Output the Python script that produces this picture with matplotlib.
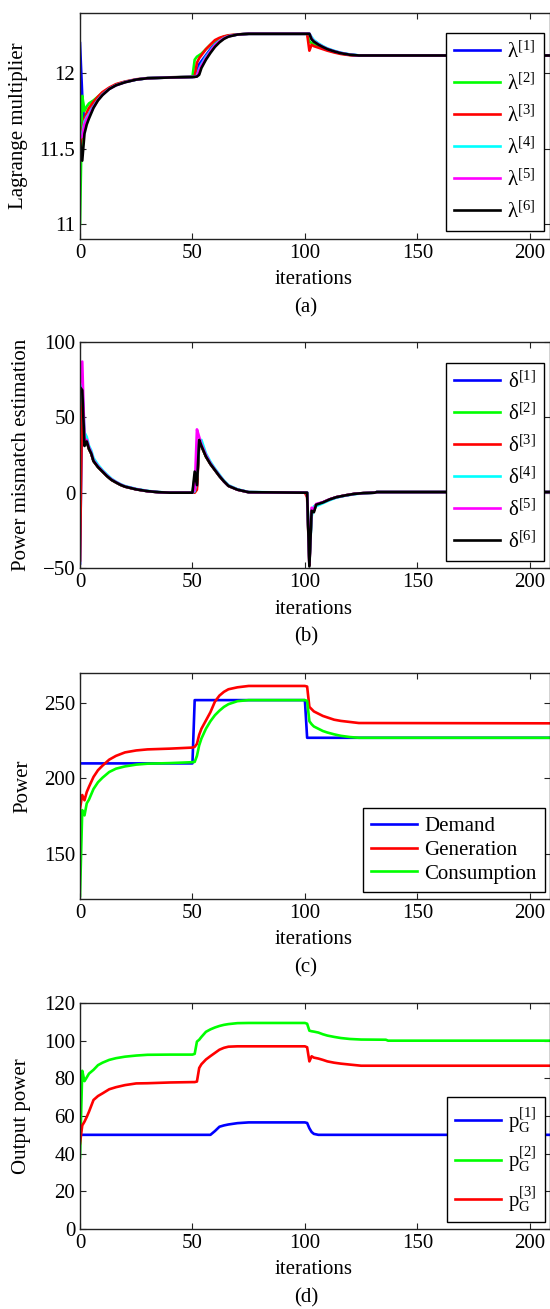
"""Distributed dispatch: Lagrange multipliers, mismatch estimates, power and unit outputs."""

import matplotlib
matplotlib.use("Agg")
import matplotlib.pyplot as plt

FONT = "Liberation Serif"
FONT_SIZE = 15
LINE_WIDTH = 1.9
W, H = 550, 1309          # figure size in pixels
AX_LEFT, AX_WIDTH, AX_HEIGHT = 80, 470, 226
AX_BOTTOMS = [239, 568, 899, 1229]  # bottom spine of each panel, px from top
X_MAX = 209

plt.rcParams["font.family"] = [FONT, "DejaVu Serif"]
plt.rcParams["mathtext.fontset"] = "custom"
plt.rcParams["mathtext.rm"] = FONT
plt.rcParams["mathtext.it"] = FONT + ":italic"
plt.rcParams["mathtext.bf"] = FONT + ":bold"

COLORS6 = ["#0000ff", "#00ff00", "#ff0000", "#00ffff", "#ff00ff", "#000000"]
COLORS3 = ["#0000ff", "#ff0000", "#00ff00"]

# ---- (a) Lagrange multipliers ----
iter_a = [0, 1, 2, 3, 4, 6, 8, 10, 13, 16, 20, 25, 30, 40, 50,
          51, 52, 53, 54, 56, 58, 60, 62, 64, 66, 70, 75,
          101, 102, 103, 104, 106, 108, 110, 113, 116, 120, 124, 210]
lam1 = [12.2, 11.85, 11.65, 11.70, 11.73, 11.785, 11.83, 11.86, 11.898, 11.922, 11.942, 11.958, 11.967, 11.972, 11.976,
        11.977, 12.0, 12.06, 12.08, 12.12, 12.16, 12.195, 12.22, 12.235, 12.247, 12.257, 12.262,
        12.262, 12.262, 12.23, 12.215, 12.195, 12.177, 12.162, 12.147, 12.135, 12.124, 12.118, 12.118]
lam2 = [11.0, 11.85, 11.75, 11.78, 11.80, 11.82, 11.845, 11.87, 11.90, 11.925, 11.943, 11.958, 11.967, 11.972, 11.976,
        12.09, 12.11, 12.12, 12.13, 12.16, 12.19, 12.215, 12.23, 12.243, 12.25, 12.257, 12.262,
        12.262, 12.21, 12.20, 12.195, 12.18, 12.167, 12.155, 12.142, 12.131, 12.122, 12.117, 12.117]
lam3 = [11.50, 11.62, 11.70, 11.74, 11.77, 11.81, 11.845, 11.875, 11.905, 11.928, 11.945, 11.96, 11.968, 11.973, 11.977,
        11.98, 12.07, 12.10, 12.12, 12.16, 12.19, 12.22, 12.235, 12.245, 12.252, 12.258, 12.262,
        12.262, 12.15, 12.19, 12.18, 12.17, 12.16, 12.15, 12.138, 12.128, 12.12, 12.117, 12.117]
lam4 = [11.58, 11.60, 11.68, 11.71, 11.73, 11.78, 11.825, 11.86, 11.897, 11.921, 11.942, 11.958, 11.968, 11.973, 11.976,
        11.977, 11.985, 12.03, 12.06, 12.11, 12.15, 12.19, 12.215, 12.233, 12.246, 12.257, 12.262,
        12.262, 12.262, 12.24, 12.22, 12.198, 12.18, 12.165, 12.149, 12.136, 12.125, 12.119, 12.119]
lam5 = [11.57, 11.58, 11.66, 11.70, 11.72, 11.775, 11.822, 11.857, 11.896, 11.92, 11.941, 11.958, 11.967, 11.972, 11.975,
        11.976, 11.98, 12.02, 12.05, 12.10, 12.145, 12.185, 12.212, 12.231, 12.245, 12.257, 12.262,
        12.262, 12.262, 12.23, 12.212, 12.192, 12.175, 12.161, 12.146, 12.134, 12.123, 12.118, 12.118]
lam6 = [11.55, 11.42, 11.60, 11.66, 11.70, 11.77, 11.82, 11.855, 11.895, 11.92, 11.94, 11.958, 11.967, 11.972, 11.975,
        11.976, 11.978, 11.99, 12.035, 12.09, 12.135, 12.175, 12.205, 12.228, 12.243, 12.257, 12.262,
        12.262, 12.262, 12.225, 12.21, 12.19, 12.174, 12.16, 12.145, 12.133, 12.123, 12.118, 12.118]

# ---- (b) power mismatch estimates ----
iter_b = [0, 1, 2, 3, 4, 5, 6, 8, 10, 12, 14, 16, 18, 20, 25, 30, 35, 40, 50,
          51, 52, 53, 54, 56, 58, 60, 62, 64, 66, 70, 75, 100,
          101, 102, 103, 104, 105, 108, 111, 114, 118, 122, 126, 131, 132, 210]
delta1 = [-47, 68, 32, 34, 29, 26, 21, 17, 14, 11, 8.5, 6.8, 5.2, 4, 2.2, 1, 0.3, 0, 0,
          1, 4, 34, 31, 24, 19, 15, 11, 7.5, 4.5, 2, 0.3, 0,
          0, -48, -12, -12, -8, -6.5, -4.5, -3, -1.8, -0.8, -0.3, 0, 0.4, 0.4]
delta2 = [70, 70, 33, 34, 29, 26, 21, 17, 14, 11, 8.5, 6.8, 5.2, 4, 2.2, 1, 0.3, 0, 0,
          10, 6, 34, 31, 24, 19, 15, 11, 7.5, 4.5, 2, 0.3, 0,
          0, -46, -11, -12, -8, -6.5, -4.5, -3, -1.8, -0.8, -0.3, 0, 0.4, 0.4]
delta3 = [-45, 70, 33, 34, 29, 26, 21, 17, 14, 11, 8.5, 6.8, 5.2, 4, 2.2, 1, 0.3, 0, 0,
          0, 2, 33, 31, 24, 19, 15, 11, 7.5, 4.5, 2, 0.3, 0,
          -3, -48, -12, -12, -8, -6.5, -4.5, -3, -1.8, -0.8, -0.3, 0, 0.4, 0.4]
delta4 = [72, 71, 40, 37, 31, 28, 23, 18.5, 15, 12, 9.3, 7.3, 5.7, 4.4, 2.5, 1.2, 0.4, 0, 0,
          1, 10, 33, 35, 26, 20.5, 16, 12, 8, 5, 2.3, 0.4, 0,
          0, -45, -16, -9, -9, -7, -5, -3.3, -2, -1, -0.4, 0, 0.4, 0.4]
delta5 = [72, 87, 35, 35, 30, 26.5, 21.5, 17.5, 14.3, 11.3, 8.8, 7, 5.4, 4.1, 2.3, 1, 0.3, 0, 0,
          2, 42, 37, 32, 25, 19.5, 15.3, 11.3, 7.5, 4.6, 2, 0.3, 0,
          0, -47, -10, -11, -7.5, -6.3, -4.4, -3, -1.8, -0.8, -0.3, 0, 0.4, 0.4]
delta6 = [70, 68, 31, 34, 29, 26, 21, 17, 14, 11, 8.5, 6.8, 5.2, 4, 2.2, 1, 0.3, 0, 0,
          14, 5, 35, 31, 24, 19, 15, 11, 7.5, 4.5, 2, 0.3, 0,
          0, -49, -12, -13, -8, -6.5, -4.5, -3, -1.8, -0.8, -0.3, 0, 0.4, 0.4]

# ---- (c) demand / generation / consumption ----
iter_demand = [0, 50, 51, 100, 101, 210]
demand = [210, 210, 252, 252, 227, 227]
iter_c = [0, 1, 2, 3, 4, 6, 8, 10, 13, 16, 20, 25, 30, 40, 50,
          51, 52, 53, 54, 56, 58, 60, 62, 64, 66, 70, 75, 100,
          101, 102, 103, 104, 106, 108, 110, 113, 116, 120, 124, 210]
generation = [180, 189, 185.5, 191, 194.5, 201, 205.5, 208.5, 212.5, 215, 217.3, 218.6, 219.3, 219.8, 220.5,
              221, 223, 229, 233, 238.5, 244, 251, 255, 257.5, 259.2, 260.5, 261.4, 261.4,
              261, 247.5, 246, 244.5, 243, 241.5, 240.5, 239, 238.2, 237.5, 236.8, 236.6]
consumption = [122, 179, 175.5, 183.5, 186, 193, 197.5, 200.5, 204.3, 206.5, 208, 209.2, 209.8, 210.2, 210.8,
               211, 215, 222, 226.5, 233, 238, 242, 245, 247.5, 249.3, 251.3, 252, 252,
               251.5, 238, 236, 234.5, 233, 231.5, 230.5, 229.3, 228.3, 227.5, 227, 227]

# ---- (d) unit outputs ----
iter_pg1 = [0, 58, 60, 62, 64, 66, 70, 75, 100, 101, 102, 103, 104, 106, 210]
pg1 = [50, 50, 52, 54.3, 55, 55.5, 56.2, 56.6, 56.6, 56.3, 53.5, 51.5, 50.5, 50, 50]
iter_d = [0, 1, 2, 3, 4, 6, 8, 10, 13, 16, 20, 25, 30, 40, 50,
          51, 52, 53, 54, 56, 58, 60, 62, 64, 66, 70, 75, 100,
          101, 102, 103, 104, 106, 108, 110, 113, 116, 120, 125, 136, 137, 210]
pg2 = [38, 84, 78.5, 80.5, 82.5, 84.5, 87, 88.3, 89.8, 90.7, 91.5, 92.1, 92.5, 92.6, 92.6,
       93, 99.5, 100.5, 102, 104.7, 106, 107, 107.8, 108.4, 108.8, 109.3, 109.4, 109.4,
       109, 105.3, 105, 104.8, 104.3, 103.4, 102.7, 102, 101.4, 100.9, 100.6, 100.5, 100, 100]
pg3 = [45.5, 55, 57, 59.5, 62.3, 68.5, 70.6, 72, 74.2, 75.3, 76.4, 77.3, 77.4, 77.8, 78,
       78, 78.3, 85.5, 87.5, 90, 91.8, 93.5, 95.2, 96.2, 96.8, 97, 97, 97,
       96.5, 89, 91.7, 91, 90.5, 89.8, 89, 88.3, 87.8, 87.3, 86.7, 86.7, 86.7, 86.7]

lam_labels = [r"$\mathrm{λ}^{[%d]}$" % k for k in range(1, 7)]
delta_labels = [r"$\mathrm{δ}^{[%d]}$" % k for k in range(1, 7)]
power_labels = ["Demand", "Generation", "Consumption"]
pg_labels = [r"$\mathrm{p}_\mathrm{G}^{[%d]}$" % k for k in range(1, 4)]

fig = plt.figure(figsize=(W / 100, H / 100), dpi=100)


def make_axes(bottom_px, ylim, yticks, ylabel, ylabel_x, tag):
    ax = fig.add_axes([AX_LEFT / W, (H - bottom_px) / H, AX_WIDTH / W, AX_HEIGHT / H])
    ax.set_xlim(0, X_MAX)
    ax.set_ylim(*ylim)
    ax.set_xticks([0, 50, 100, 150, 200])
    ax.set_yticks(yticks)
    ax.tick_params(direction="in", top=True, right=True, length=4, width=0.8,
                   labelsize=FONT_SIZE, pad=3.5, color="#222222", labelcolor="black")
    for s in ax.spines.values():
        s.set_linewidth(1.0)
        s.set_color("#222222")
    top_px = bottom_px - AX_HEIGHT
    fig.text(ylabel_x / W, 1 - (top_px + AX_HEIGHT / 2) / H, ylabel, rotation=90,
             ha="center", va="center", fontsize=FONT_SIZE)
    fig.text(314 / W, 1 - (bottom_px + 41) / H, "iterations", ha="center", va="center", fontsize=FONT_SIZE)
    fig.text(306 / W, 1 - (bottom_px + 69) / H, tag, ha="center", va="center", fontsize=FONT_SIZE)
    return ax


def add_legend(ax, loc, anchor, spacing):
    leg = ax.legend(loc=loc, bbox_to_anchor=anchor, bbox_transform=ax.transAxes, borderaxespad=0,
                    fontsize=FONT_SIZE, handlelength=2.2, handletextpad=0.35, labelspacing=spacing,
                    borderpad=0.4, fancybox=False, framealpha=1, edgecolor="black")
    leg.get_frame().set_linewidth(1.0)


# (a)
ax = make_axes(AX_BOTTOMS[0], (10.9, 12.4), [11, 11.5, 12], "Lagrange multiplier", 19, "(a)")
ax.set_yticklabels(["11", "11.5", "12"])
for ys, c, lab in zip([lam1, lam2, lam3, lam4, lam5, lam6], COLORS6, lam_labels):
    ax.plot(iter_a, ys, color=c, lw=LINE_WIDTH, label=lab)
add_legend(ax, "upper right", (0.987, 0.912), 0.52)

# (b)
ax = make_axes(AX_BOTTOMS[1], (-50, 100), [-50, 0, 50, 100], "Power mismatch estimation", 22, "(b)")
for ys, c, lab in zip([delta1, delta2, delta3, delta4, delta5, delta6], COLORS6, delta_labels):
    ax.plot(iter_b, ys, color=c, lw=LINE_WIDTH, label=lab)
add_legend(ax, "upper right", (0.987, 0.907), 0.52)

# (c)
ax = make_axes(AX_BOTTOMS[2], (120, 270), [150, 200, 250], "Power", 23, "(c)")
ax.plot(iter_demand, demand, color=COLORS3[0], lw=LINE_WIDTH, label=power_labels[0])
ax.plot(iter_c, generation, color=COLORS3[1], lw=LINE_WIDTH, label=power_labels[1])
ax.plot(iter_c, consumption, color=COLORS3[2], lw=LINE_WIDTH, label=power_labels[2])
add_legend(ax, "lower right", (0.989, 0.031), 0.2)

# (d)
ax = make_axes(AX_BOTTOMS[3], (0, 120), [0, 20, 40, 60, 80, 100, 120], "Output power", 22, "(d)")
ax.plot(iter_pg1, pg1, color="#0000ff", lw=LINE_WIDTH, label=pg_labels[0])
ax.plot(iter_d, pg2, color="#00ff00", lw=LINE_WIDTH, label=pg_labels[1])
ax.plot(iter_d, pg3, color="#ff0000", lw=LINE_WIDTH, label=pg_labels[2])
add_legend(ax, "lower right", (0.989, 0.031), 0.48)

fig.savefig("out.png", dpi=100)
